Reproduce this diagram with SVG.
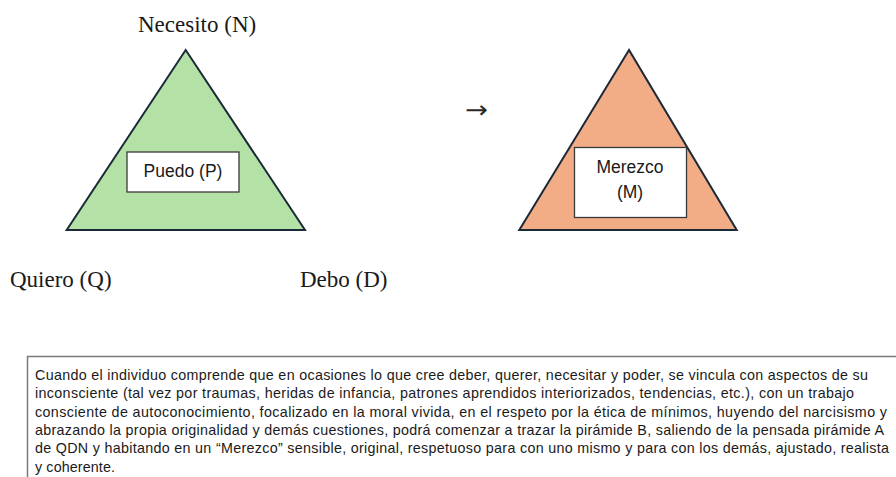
<svg xmlns="http://www.w3.org/2000/svg" width="896" height="477" viewBox="0 0 896 477">
<style>
.serif{font-family:"Liberation Serif","Times New Roman",serif;font-size:23px;fill:#1a1a1a}
.sans{font-family:"Liberation Sans",Arial,sans-serif;fill:#1a1a1a}
.tri{stroke:#1c2a38;stroke-width:2;stroke-linejoin:miter}
.box{fill:#ffffff;stroke:#3a3a3a;stroke-width:1.3}
.para{font-family:"Liberation Sans",Arial,sans-serif;font-size:14.3px;fill:#1a1a1a}
</style>
<rect width="896" height="477" fill="#ffffff"/>
<g id="pyramid-a">
<polygon class="tri" points="185.7,50 66.7,230 305,230" fill="#b4e2a6"/>
<g id="puedo">
<rect class="box" x="127" y="152" width="112" height="40"/>
<text class="sans" x="183" y="177" font-size="17.5" text-anchor="middle">Puedo (P)</text>
</g>
</g>
<g id="labels">
<text class="serif" x="138" y="32">Necesito (N)</text>
<text class="serif" x="10" y="287">Quiero (Q)</text>
<text class="serif" x="300" y="287">Debo (D)</text>
</g>
<g id="connectors">
<text x="465" y="118" font-family="'DejaVu Sans',sans-serif" font-size="24" fill="#2a2a2a" textLength="23" lengthAdjust="spacingAndGlyphs">→</text>
</g>
<g id="pyramid-b">
<polygon class="tri" points="629,50 519.3,230 736.7,230" fill="#f2ac86"/>
<g id="merezco">
<rect class="box" x="574.5" y="147.5" width="112" height="70"/>
<text class="sans" x="630" y="173" font-size="17.5" text-anchor="middle">Merezco</text>
<text class="sans" x="630" y="198" font-size="17.5" text-anchor="middle">(M)</text>
</g>
</g>
<g id="note">
<rect x="27.5" y="356.5" width="890" height="140" fill="#ffffff" stroke="#7a7a7a" stroke-width="1.5"/>
<text class="para" x="35" y="380" textLength="833" lengthAdjust="spacing">Cuando el individuo comprende que en ocasiones lo que cree deber, querer, necesitar y poder, se vincula con aspectos de su</text>
<text class="para" x="35" y="398.3" textLength="819" lengthAdjust="spacing">inconsciente (tal vez por traumas, heridas de infancia, patrones aprendidos interiorizados, tendencias, etc.), con un trabajo</text>
<text class="para" x="35" y="416.6" textLength="852" lengthAdjust="spacing">consciente de autoconocimiento, focalizado en la moral vivida, en el respeto por la ética de mínimos, huyendo del narcisismo y</text>
<text class="para" x="35" y="434.9" textLength="849" lengthAdjust="spacing">abrazando la propia originalidad y demás cuestiones, podrá comenzar a trazar la pirámide B, saliendo de la pensada pirámide A</text>
<text class="para" x="35" y="453.2" textLength="854" lengthAdjust="spacing">de QDN y habitando en un “Merezco” sensible, original, respetuoso para con uno mismo y para con los demás, ajustado, realista</text>
<text class="para" x="35" y="471.5" textLength="80" lengthAdjust="spacing">y coherente.</text>
</g>
</svg>
